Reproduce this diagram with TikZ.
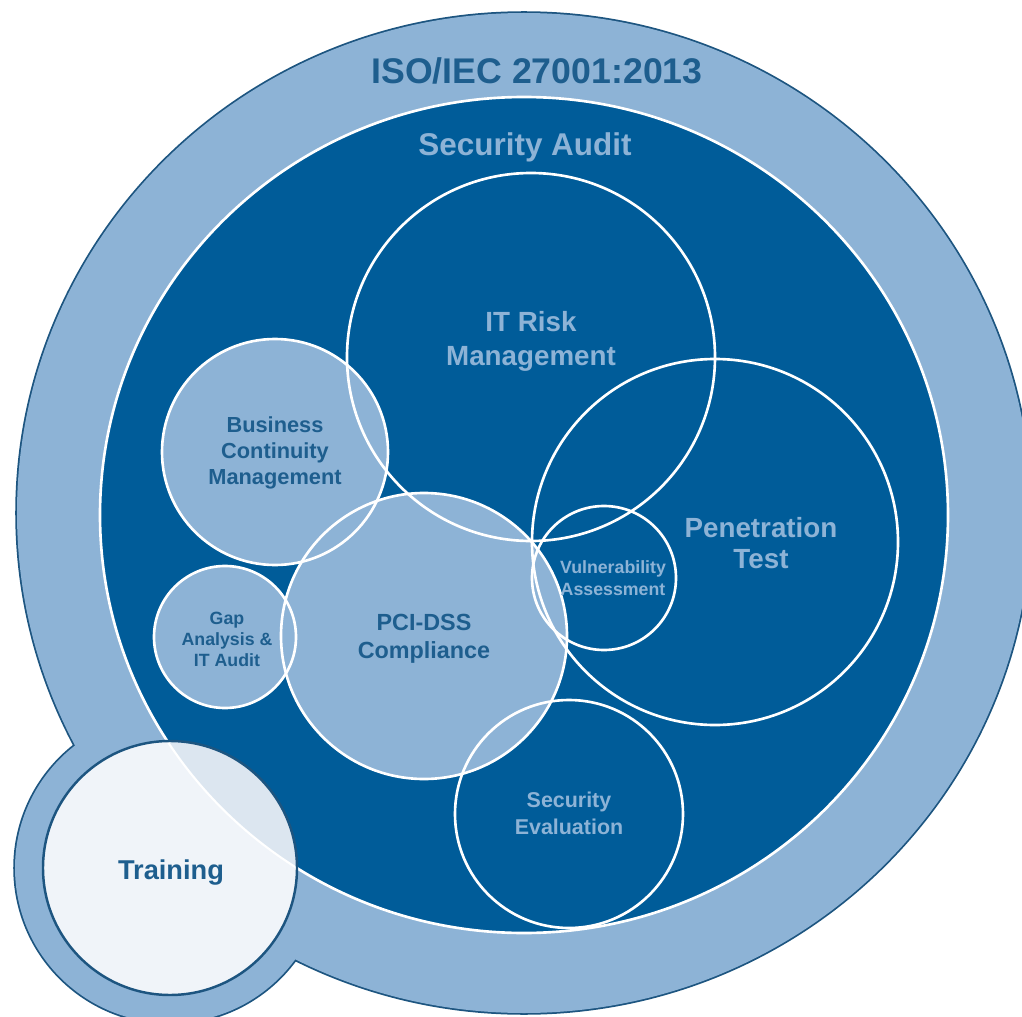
\documentclass[tikz,border=0pt]{standalone}
\usepackage{fontspec}
\setmainfont{Liberation Sans}

\definecolor{isolight}{HTML}{8DB3D6}
\definecolor{auditblue}{HTML}{005C99}
\definecolor{textblue}{HTML}{1E5E8E}
\definecolor{trainfill}{HTML}{F0F4F9}
\definecolor{trainmix}{HTML}{DCE6F0}
\definecolor{rimblue}{HTML}{1D5580}

\begin{document}
\begin{tikzpicture}[x=0.02cm, y=-0.02cm,
    ring/.style = {draw=white, line width=1.5pt},
    lbl/.style = {align=center, inner sep=0pt},
    darklbl/.style = {lbl, text=textblue},
    lightlbl/.style = {lbl, text=isolight}]
    \useasboundingbox (0,0) rectangle (1022,1017);
    % outer band, joined with the training bubble
    \draw[rimblue, line width=2pt] (524,513) ellipse [x radius=507, y radius=500];
    \draw[rimblue, line width=2pt] (170,868) circle [radius=155];
    \fill[isolight] (524,513) ellipse [x radius=507, y radius=500];
    \fill[isolight] (170,868) circle [radius=155];
    % security audit area
    \fill[auditblue] (524,515) ellipse [x radius=424, y radius=418];
    \fill[isolight] (275,452) circle [radius=113];
    \fill[isolight] (424,636) circle [radius=143];
    \fill[isolight] (225,637) circle [radius=71];
    \draw[ring] (524,515) ellipse [x radius=424, y radius=418];
    \draw[ring] (531,357) circle [radius=184];
    \draw[ring] (715,542) circle [radius=183];
    \draw[ring] (275,452) circle [radius=113];
    \draw[ring] (424,636) circle [radius=143];
    \draw[ring] (225,637) circle [radius=71];
    \draw[ring] (604,578) circle [radius=72];
    \draw[ring] (569,814) circle [radius=114];
    % training
    \fill[trainfill] (170,868) circle [radius=127];
    \begin{scope}
        \clip (170,868) circle [radius=127];
        \fill[trainmix] (524,515) ellipse [x radius=424, y radius=418];
        \draw[white, line width=1.2pt] (524,515) ellipse [x radius=424, y radius=418];
    \end{scope}
    \draw[rimblue, line width=1.4pt] (170,868) circle [radius=127];

    \node[darklbl, anchor=base, font=\bfseries\fontsize{20.3}{24}\selectfont] (iso) at (537,84) {ISO/IEC 27001:2013};
    \node[lightlbl, anchor=base, font=\bfseries\fontsize{17.9}{21}\selectfont] (audit) at (525,156) {Security Audit};
    \node[lightlbl, font=\bfseries\fontsize{15.8}{19.3}\selectfont] (itrisk) at (531,341) {IT Risk\\Management};
    \node[darklbl, font=\bfseries\fontsize{12.4}{14.7}\selectfont] (bcm) at (275,453) {Business\\Continuity\\Management};
    \node[lightlbl, font=\bfseries\fontsize{15.8}{18.1}\selectfont] (pentest) at (761,543) {Penetration\\Test};
    \node[lightlbl, font=\bfseries\fontsize{10.1}{12.5}\selectfont] (vuln) at (613,578) {Vulnerability\\Assessment};
    \node[darklbl, font=\bfseries\fontsize{13.3}{15.9}\selectfont] (pci) at (424,639) {PCI-DSS\\Compliance};
    \node[darklbl, font=\bfseries\fontsize{10.1}{11.9}\selectfont] (gap) at (227,639) {Gap\\Analysis \&\\IT Audit};
    \node[lightlbl, font=\bfseries\fontsize{12.2}{15.3}\selectfont] (seceval) at (569,813) {Security\\Evaluation};
    \node[darklbl, anchor=base, font=\bfseries\fontsize{15.5}{18}\selectfont] (training) at (171,879) {Training};
\end{tikzpicture}
\end{document}
